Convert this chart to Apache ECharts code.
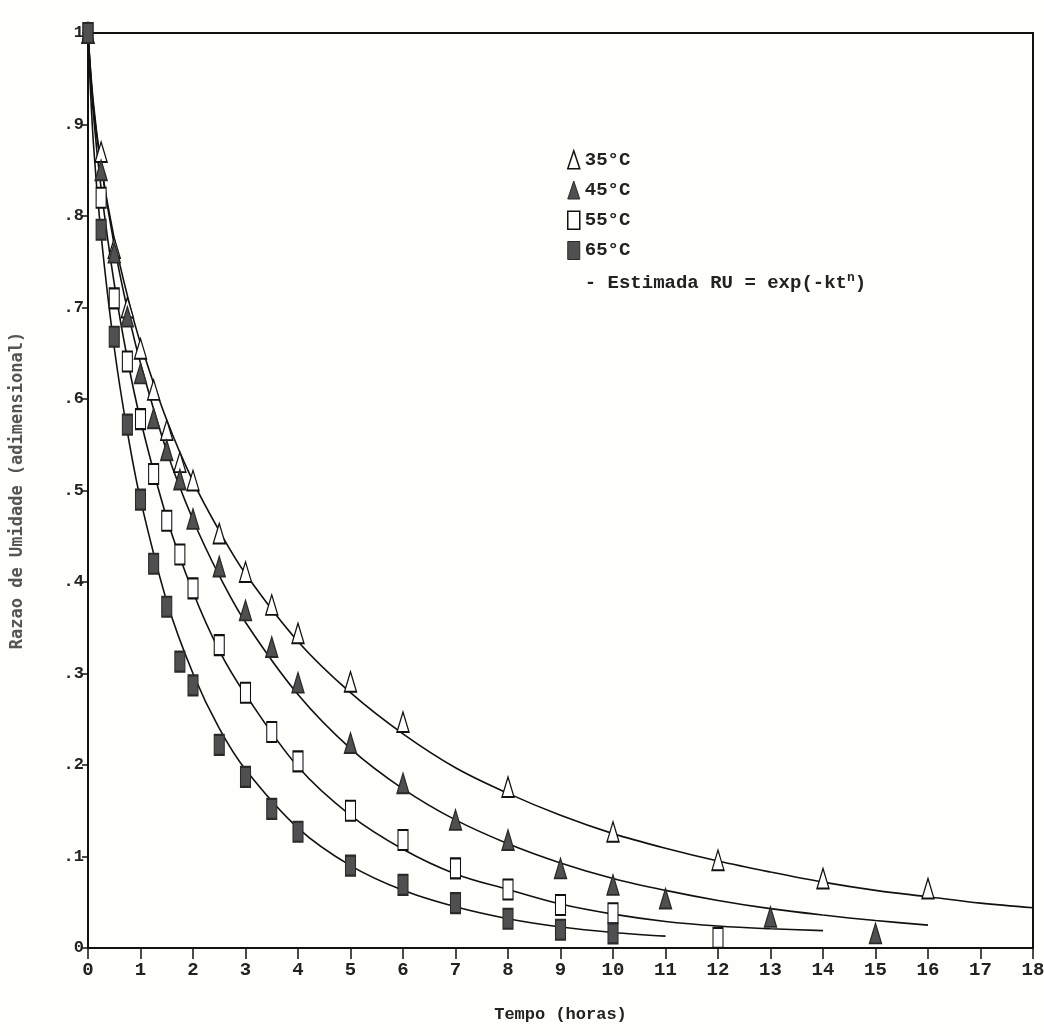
<!DOCTYPE html>
<html>
<head>
<meta charset="utf-8">
<title>Razao de Umidade</title>
<script src="https://cdn.jsdelivr.net/npm/echarts@6/dist/echarts.min.js"></script>
<style>
  html, body { margin: 0; padding: 0; background: #fefefb; }
  #chart { width: 1044px; height: 1036px; }
</style>
</head>
<body>
<div id="chart"></div>
<script>
// pontos experimentais (tempo em horas, razao de umidade)
const t35 = [0, 0.25, 0.5, 0.75, 1, 1.25, 1.5, 1.75, 2, 2.5, 3, 3.5, 4, 5, 6, 8, 10, 12, 14, 16];
const v35 = [1.0, 0.87, 0.765, 0.70, 0.655, 0.61, 0.566, 0.531, 0.511, 0.453, 0.411, 0.375, 0.344, 0.291, 0.247, 0.176, 0.127, 0.096, 0.076, 0.065];

const t45 = [0, 0.25, 0.5, 0.75, 1, 1.25, 1.5, 1.75, 2, 2.5, 3, 3.5, 4, 5, 6, 7, 8, 9, 10, 11, 13, 15];
const v45 = [1.0, 0.85, 0.76, 0.69, 0.628, 0.579, 0.544, 0.512, 0.469, 0.417, 0.369, 0.329, 0.29, 0.224, 0.18, 0.14, 0.118, 0.087, 0.069, 0.054, 0.034, 0.016];

const t55 = [0, 0.25, 0.5, 0.75, 1, 1.25, 1.5, 1.75, 2, 2.5, 3, 3.5, 4, 5, 6, 7, 8, 9, 10, 12];
const v55 = [1.0, 0.82, 0.71, 0.641, 0.578, 0.518, 0.467, 0.43, 0.393, 0.331, 0.279, 0.236, 0.204, 0.15, 0.118, 0.087, 0.064, 0.047, 0.038, 0.011];

const t65 = [0, 0.25, 0.5, 0.75, 1, 1.25, 1.5, 1.75, 2, 2.5, 3, 3.5, 4, 5, 6, 7, 8, 9, 10];
const v65 = [1.0, 0.785, 0.668, 0.572, 0.49, 0.42, 0.373, 0.313, 0.287, 0.222, 0.187, 0.152, 0.127, 0.09, 0.069, 0.049, 0.032, 0.02, 0.016];

// curvas estimadas
const ct35 = [0, 0.1, 0.25, 0.5, 0.75, 1, 1.5, 2, 2.5, 3, 4, 5, 6, 7, 8, 9, 10, 11, 12, 13, 14, 15, 16, 17, 18];
const c35 = [1.0, 0.921, 0.855, 0.775, 0.713, 0.661, 0.577, 0.51, 0.456, 0.409, 0.335, 0.279, 0.234, 0.197, 0.169, 0.145, 0.125, 0.109, 0.095, 0.083, 0.072, 0.063, 0.056, 0.049, 0.044];

const ct45 = [0, 0.1, 0.25, 0.5, 0.75, 1, 1.5, 2, 2.5, 3, 4, 5, 6, 7, 8, 9, 10, 11, 12, 13, 14, 15, 16];
const c45 = [1.0, 0.925, 0.855, 0.768, 0.698, 0.639, 0.543, 0.468, 0.407, 0.356, 0.277, 0.218, 0.174, 0.14, 0.114, 0.093, 0.076, 0.063, 0.052, 0.043, 0.036, 0.03, 0.025];

const ct55 = [0, 0.1, 0.25, 0.5, 0.75, 1, 1.5, 2, 2.5, 3, 4, 5, 6, 7, 8, 9, 10, 11, 12, 13, 14];
const c55 = [1.0, 0.913, 0.83, 0.726, 0.644, 0.577, 0.47, 0.389, 0.325, 0.277, 0.198, 0.145, 0.108, 0.081, 0.064, 0.048, 0.037, 0.029, 0.024, 0.021, 0.019];

const ct65 = [0, 0.1, 0.25, 0.5, 0.75, 1, 1.5, 2, 2.5, 3, 4, 5, 6, 7, 8, 9, 10, 11];
const c65 = [1.0, 0.882, 0.779, 0.656, 0.564, 0.49, 0.379, 0.30, 0.24, 0.195, 0.131, 0.09, 0.063, 0.045, 0.032, 0.023, 0.017, 0.013];

const legendNames = ['35°C', '45°C', '55°C', '65°C', 'Estimada'];
const legendText = {
  'Estimada': '- Estimada RU = exp(-kt{sup|n})'
};

const FONT = 'Liberation Mono';
const FILL = '#505050';

function pairs(xs, ys) {
  return xs.map((x, i) => [x, ys[i]]);
}

function curve(xs, ys) {
  return {
    name: 'Estimada',
    type: 'line',
    smooth: 0.35,
    symbol: 'none',
    z: 2,
    lineStyle: { color: '#111', width: 1.6 },
    data: pairs(xs, ys)
  };
}

function points(name, xs, ys, symbol, size, filled) {
  return {
    name: name,
    type: 'scatter',
    symbol: symbol,
    symbolSize: size,
    z: 4,
    itemStyle: {
      color: filled ? FILL : '#ffffff',
      borderColor: filled ? '#2a2a2a' : '#111',
      borderWidth: 1.5,
      opacity: 1
    },
    data: pairs(xs, ys)
  };
}

const chart = echarts.init(document.getElementById('chart'));

chart.setOption({
  backgroundColor: '#fefefb',
  animation: false,
  grid: {
    left: 88,
    right: 11,
    top: 33,
    bottom: 88,
    show: true,
    borderColor: '#111',
    borderWidth: 2,
    outerBoundsMode: 'none'
  },
  legend: {
    orient: 'vertical',
    left: 562,
    top: 145,
    itemWidth: 12,
    itemHeight: 18,
    itemGap: 11,
    selectedMode: false,
    textStyle: {
      fontFamily: FONT,
      fontWeight: 'bold',
      fontSize: 19,
      color: '#222',
      rich: {
        sup: { fontFamily: FONT, fontWeight: 'bold', fontSize: 13, color: '#222', padding: [0, 0, 12, 0] }
      }
    },
    formatter: function (name) {
      return legendText[name] || name;
    },
    data: [
      { name: legendNames[0], icon: 'triangle', itemStyle: { color: '#fff', borderColor: '#111', borderWidth: 1.5 } },
      { name: legendNames[1], icon: 'triangle', itemStyle: { color: FILL, borderColor: '#2a2a2a', borderWidth: 1 } },
      { name: legendNames[2], icon: 'rect', itemStyle: { color: '#fff', borderColor: '#111', borderWidth: 1.5 } },
      { name: legendNames[3], icon: 'rect', itemStyle: { color: FILL, borderColor: '#2a2a2a', borderWidth: 1 } },
      { name: legendNames[4], icon: 'rect', itemStyle: { opacity: 0 } }
    ]
  },
  xAxis: {
    type: 'value',
    min: 0,
    max: 18,
    interval: 1,
    name: 'Tempo (horas)',
    nameLocation: 'middle',
    nameGap: 58,
    nameTextStyle: { fontFamily: FONT, fontWeight: 'bold', fontSize: 17, color: '#222' },
    splitLine: { show: false },
    axisLine: { lineStyle: { color: '#111', width: 2 } },
    axisTick: { inside: false, length: 11, lineStyle: { color: '#111', width: 1.5 } },
    axisLabel: { fontFamily: FONT, fontWeight: 'bold', fontSize: 19, color: '#222', margin: 13 }
  },
  yAxis: {
    type: 'value',
    min: 0,
    max: 1,
    interval: 0.1,
    name: 'Razao de Umidade (adimensional)',
    nameLocation: 'middle',
    nameRotate: 90,
    nameGap: 62,
    nameTextStyle: { fontFamily: 'DejaVu Sans Mono', fontWeight: 'bold', fontSize: 17, color: '#555' },
    splitLine: { show: false },
    axisLine: { lineStyle: { color: '#111', width: 2 } },
    axisTick: { inside: false, length: 6, lineStyle: { color: '#111', width: 1.5 } },
    axisLabel: {
      fontFamily: FONT,
      fontWeight: 'bold',
      fontSize: 17,
      color: '#222',
      margin: 4,
      formatter: function (v) {
        if (v === 0) return '0';
        if (v === 1) return '1';
        return v.toFixed(1).replace('0.', '.');
      }
    }
  },
  series: [
    curve(ct35, c35),
    curve(ct45, c45),
    curve(ct55, c55),
    curve(ct65, c65),
    points('35°C', t35, v35, 'triangle', [12, 20], false),
    points('45°C', t45, v45, 'triangle', [12, 20], true),
    points('55°C', t55, v55, 'rect', [10, 20], false),
    points('65°C', t65, v65, 'rect', [10, 20], true)
  ]
});
</script>
</body>
</html>
